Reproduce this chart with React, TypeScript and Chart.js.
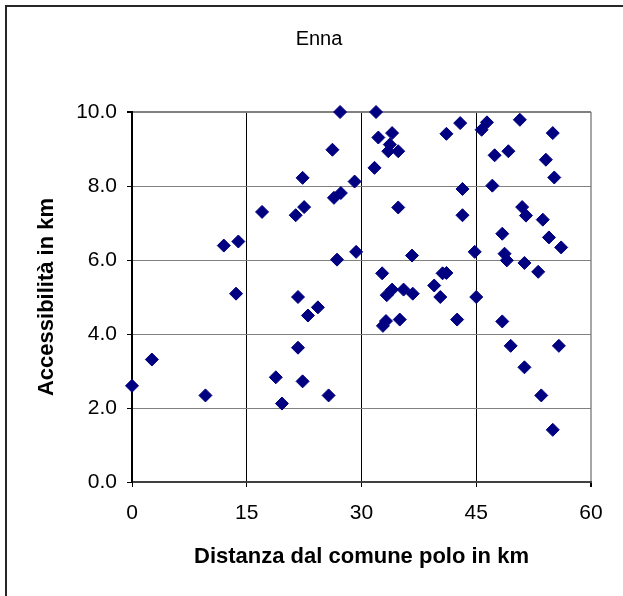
import React, { useEffect, useRef } from "react";
import { Chart, registerables } from "chart.js";

Chart.register(...registerables);

const CHART_TITLE = "Enna";
const X_TITLE = "Distanza dal comune polo in km";
const Y_TITLE = "Accessibilità in km";

const distanceKm = [
  0, 2.6, 9.6, 12.0, 13.9, 13.6, 17.0, 18.8, 19.6, 21.4,
  22.5, 22.3, 21.7, 21.7, 22.3, 23.0, 24.3, 25.7, 26.2, 26.4,
  27.3, 26.8, 27.2, 29.1, 29.3, 31.7, 31.9, 32.2, 34.0, 33.7,
  33.5, 34.8, 34.8, 36.6, 32.7, 33.3, 34.0, 35.5, 36.7, 33.2,
  32.8, 35.0, 39.5, 40.3, 40.6, 41.1, 41.1, 42.9, 43.2, 43.2,
  42.5, 44.8, 45.0, 45.7, 46.4, 47.1, 47.4, 48.4, 48.7, 49.0,
  48.4, 49.2, 49.5, 50.7, 51.0, 51.5, 51.3, 51.3, 53.1, 53.7,
  53.5, 54.1, 54.5, 55.0, 55.2, 55.0, 55.8, 56.1,
];

const accessibilityKm = [
  2.6, 3.31, 2.34, 6.39, 6.5, 5.09, 7.3, 2.83, 2.12, 7.21,
  7.43, 8.22, 5.0, 3.63, 2.72, 4.5, 4.72, 2.34, 8.98, 7.68,
  7.81, 6.01, 10.0, 8.12, 6.22, 8.49, 10.0, 9.31, 9.43, 9.12,
  8.94, 8.94, 7.42, 6.12, 5.64, 5.05, 5.2, 5.2, 5.09, 4.35,
  4.22, 4.39, 5.31, 5.0, 5.64, 5.65, 9.41, 9.7, 7.92, 7.21,
  4.39, 6.22, 5.0, 9.52, 9.72, 8.01, 8.83, 6.71, 6.17, 5.99,
  4.34, 8.94, 3.68, 9.79, 7.43, 7.2, 5.92, 3.1, 5.68, 7.09,
  2.34, 8.71, 6.61, 9.43, 8.23, 1.41, 3.68, 6.34,
];

const X_MIN = 0;
const X_MAX = 60;
const X_STEP = 15;
const Y_MIN = 0;
const Y_MAX = 10;
const Y_STEP = 2;

const FONT = '"Liberation Sans", Arial, sans-serif';

const decorPlugin = {
  id: "decor",
  beforeDraw(chart: any) {
    const ctx = chart.ctx;
    ctx.save();
    ctx.fillStyle = "#ffffff";
    ctx.fillRect(0, 0, chart.width, chart.height);
    ctx.restore();
  },
  afterDraw(chart: any) {
    const ctx = chart.ctx;
    const area = chart.chartArea;
    ctx.save();
    ctx.strokeStyle = "#262626";
    ctx.lineWidth = 2;
    ctx.strokeRect(6, 6, 800, 800);
    ctx.fillStyle = "#000000";
    ctx.textAlign = "center";
    ctx.textBaseline = "middle";
    ctx.font = `20px ${FONT}`;
    ctx.fillText(CHART_TITLE, 319, 39);
    ctx.font = `bold 22px ${FONT}`;
    ctx.fillText(X_TITLE, (area.left + area.right) / 2, 557);
    ctx.translate(47, (area.top + area.bottom) / 2);
    ctx.rotate(-Math.PI / 2);
    ctx.fillText(Y_TITLE, 0, 0);
    ctx.restore();
  },
};

export default function App() {
  const ref = useRef<HTMLCanvasElement | null>(null);

  useEffect(() => {
    if (!ref.current) return;
    const points = distanceKm.map((x, i) => ({ x, y: accessibilityKm[i] }));
    const chart = new Chart(ref.current, {
      type: "scatter",
      data: {
        datasets: [
          {
            data: points,
            pointStyle: "rectRot",
            pointRadius: 6.5,
            pointBackgroundColor: "#000080",
            pointBorderColor: "#000080",
            pointBorderWidth: 1,
            clip: false as any,
          },
        ],
      },
      options: {
        animation: false,
        responsive: false,
        devicePixelRatio: 1,
        layout: { padding: { left: 0, top: 112, right: 32, bottom: 0 } },
        plugins: {
          legend: { display: false },
          title: { display: false },
          tooltip: { enabled: false },
        },
        scales: {
          x: {
            type: "linear",
            min: X_MIN,
            max: X_MAX,
            afterFit: (s: any) => {
              s.height = 114;
            },
            ticks: {
              stepSize: X_STEP,
              color: "#000",
              font: { family: FONT, size: 21 },
              padding: 14,
              maxRotation: 0,
            },
            grid: {
              color: (c: any) => {
                const v = c.tick ? c.tick.value : 0;
                if (v === X_MAX) return "#a6a6a6";
                return "#000000";
              },
              lineWidth: (c: any) => {
                const v = c.tick ? c.tick.value : 0;
                return v === X_MAX ? 2 : 1;
              },
              tickColor: "#000000",
              tickLength: 5,
            },
            border: { color: "#404040", width: 2 },
          },
          y: {
            type: "linear",
            min: Y_MIN,
            max: Y_MAX,
            afterFit: (s: any) => {
              s.width = 132;
            },
            ticks: {
              stepSize: Y_STEP,
              color: "#000",
              font: { family: FONT, size: 21 },
              padding: 10,
              callback: (v: any) => Number(v).toFixed(1),
            },
            grid: {
              color: "#808080",
              lineWidth: (c: any) => {
                const v = c.tick ? c.tick.value : 0;
                return v === Y_MAX ? 2 : 1;
              },
              tickColor: "#000000",
              tickLength: 5,
            },
            border: { color: "#000000", width: 2 },
          },
        },
      },
      plugins: [decorPlugin],
    });
    return () => chart.destroy();
  }, []);

  return (
    <div
      style={{
        position: "fixed",
        left: 0,
        top: 0,
        width: 623,
        height: 596,
        overflow: "hidden",
        background: "#fff",
      }}
    >
      <canvas ref={ref} width={623} height={596} style={{ display: "block" }} />
    </div>
  );
}
